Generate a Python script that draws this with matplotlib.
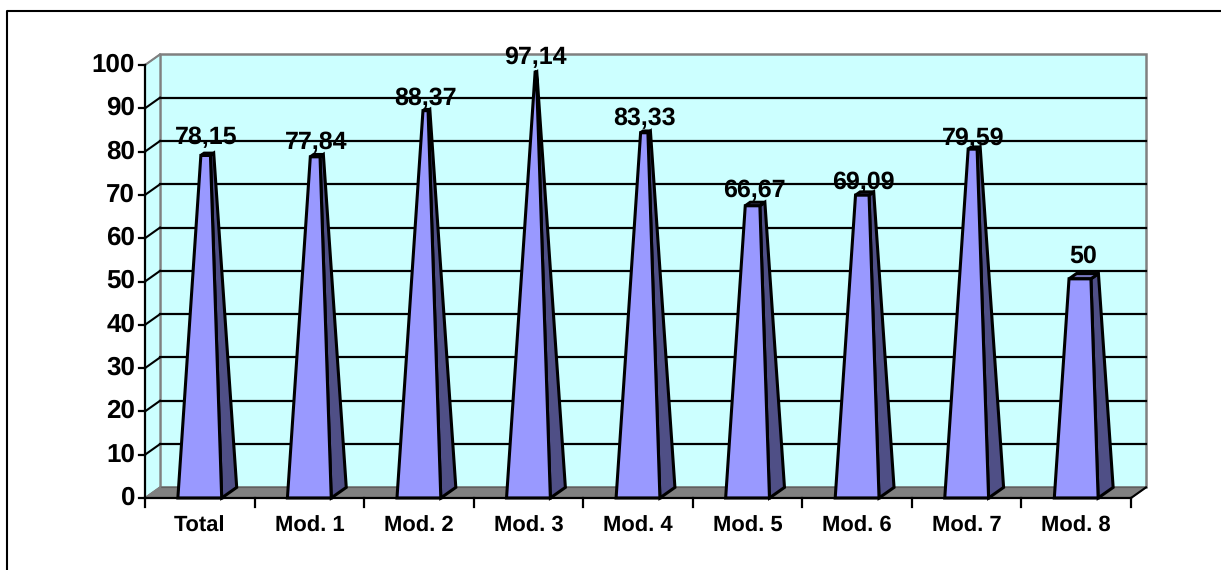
import matplotlib
matplotlib.use('Agg')
import matplotlib.pyplot as plt
from matplotlib.patches import Polygon

categories = ['Total', 'Mod. 1', 'Mod. 2', 'Mod. 3', 'Mod. 4', 'Mod. 5', 'Mod. 6', 'Mod. 7', 'Mod. 8']
values = [78.15, 77.84, 88.37, 97.14, 83.33, 66.67, 69.09, 79.59, 50]
labels = ['78,15', '77,84', '88,37', '97,14', '83,33', '66,67', '69,09', '79,59', '50']
y_ticks = list(range(0, 101, 10))

W, H = 1221, 570
DX, DY = 0.137, 2.45  # смещение задней стенки (глубина 3D)
HALF = 0.2  # половина ширины основания пирамиды
label_shift = [1, -2, -3, 0, -2, -3, -5, -6, 3]  # сдвиг подписей, пикселей

plt.rcParams['font.family'] = ['Liberation Sans', 'DejaVu Sans']
plt.rcParams['font.weight'] = 'bold'
plt.rcParams['text.hinting'] = 'no_hinting'
plt.rcParams['text.hinting_factor'] = 1

fig = plt.figure(figsize=(W / 100, H / 100), dpi=100, facecolor='white')
ax = fig.add_axes([145 / W, 1 - 498 / H, (1131 - 145) / W, (498 - 65) / H])
ax.set_xlim(0, 9)
ax.set_ylim(0, 100)
ax.axis('off')

# рамка вокруг диаграммы: видны только верх и левый край
fig.add_artist(plt.Line2D([7 / W, 7 / W, 1], [0, 1 - 11 / H, 1 - 11 / H], color='black', lw=1.5))

# задняя и боковая стенки, пол
ax.add_patch(Polygon([(DX, DY), (9 + DX, DY), (9 + DX, 100 + DY), (DX, 100 + DY)],
                     fc='#CCFFFF', ec='#808080', lw=1.8, clip_on=False, zorder=1))
ax.add_patch(Polygon([(0, 0), (DX, DY), (DX, 100 + DY), (0, 100)],
                     fc='#CCFFFF', ec='#808080', lw=1, clip_on=False, zorder=1))
ax.add_patch(Polygon([(0, 0), (9, 0), (9 + DX, DY), (DX, DY)],
                     fc='#808080', ec='#606060', lw=1, clip_on=False, zorder=2))

# линии сетки
for t in y_ticks[1:-1]:
    ax.plot([DX, 9 + DX], [t + DY, t + DY], color='black', lw=1.6, clip_on=False, zorder=2)
    ax.plot([0, DX], [t, t + DY], color='black', lw=1.5, clip_on=False, zorder=2)
for t in (0, 100):
    ax.plot([0, DX], [t, t + DY], color='#808080', lw=1.5, clip_on=False, zorder=2)

# оси
ax.plot([0, 0], [0, 100], color='black', lw=1.6, clip_on=False, zorder=3)
ax.plot([0, 9], [0, 0], color='black', lw=1.6, clip_on=False, zorder=6)
for t in y_ticks:
    ax.plot([-0.055, 0], [t, t], color='black', lw=1.6, clip_on=False, zorder=3)
    ax.text(-0.09, t, str(t), ha='right', va='center', fontsize=18.5, clip_on=False)
for i in range(10):
    ax.plot([i, i], [0, -2.1], color='black', lw=1.6, clip_on=False, zorder=3)
ax.plot([9, 9 + DX], [0, DY], color='black', lw=1.5, clip_on=False, zorder=3)


def lerp(a, b, t):
    return (a[0] + (b[0] - a[0]) * t, a[1] + (b[1] - a[1]) * t)


# усечённые пирамиды
for i, (v, lab, cat) in enumerate(zip(values, labels, categories)):
    c = i + 0.5
    apex = (c + DX / 2, 100 + DY / 2)
    fl, fr = (c - HALF, 0), (c + HALF, 0)
    br = (c + HALF + DX, DY)
    bl = (c - HALF + DX, DY)
    t = v / 100
    tfl, tfr, tbr, tbl = lerp(fl, apex, t), lerp(fr, apex, t), lerp(br, apex, t), lerp(bl, apex, t)
    ax.add_patch(Polygon([fr, br, tbr, tfr], fc='#4F4F86', ec='black', lw=2.2, clip_on=False, zorder=4))
    ax.add_patch(Polygon([tfl, tfr, tbr, tbl], fc='#7878C0', ec='black', lw=2.2, clip_on=False, zorder=4))
    ax.add_patch(Polygon([fl, fr, tfr, tfl], fc='#9999FF', ec='black', lw=2.2, clip_on=False, zorder=5))
    ax.annotate(lab, xy=(c + 0.06, tbl[1] + 0.6), xytext=(0, label_shift[i]), textcoords='offset pixels',
                ha='center', va='bottom', fontsize=18, annotation_clip=False, zorder=7)
    ax.text(c, -6.4, cat, ha='center', va='center', fontsize=15.7, clip_on=False)

fig.savefig('out.png', dpi=100)
